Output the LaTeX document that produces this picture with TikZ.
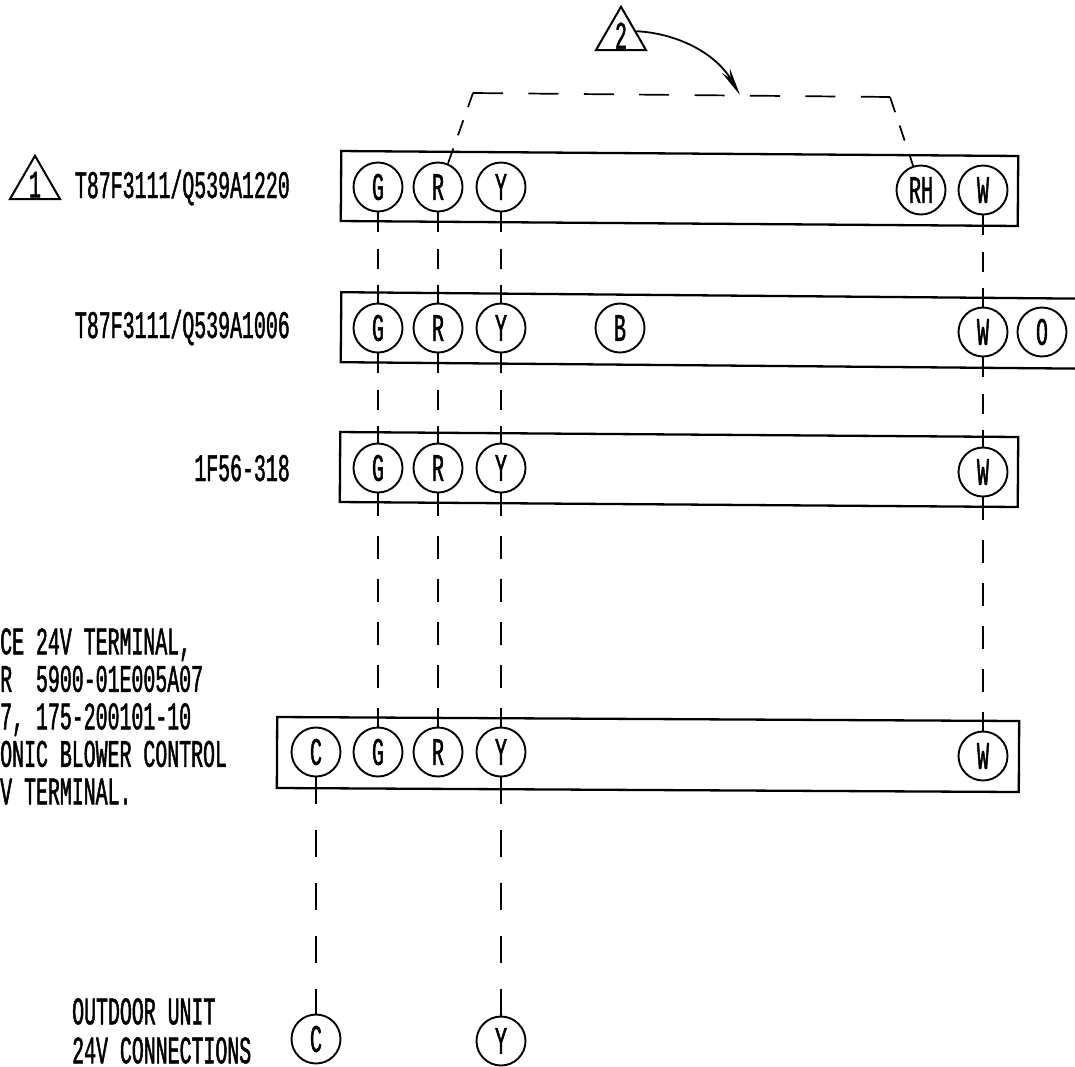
\documentclass[tikz,border=0pt]{standalone}
\usepackage{fontspec}
\usetikzlibrary{arrows.meta,shapes.geometric}
\newfontfamily\plotfont[FakeStretch=0.51,FakeBold=1.2]{Liberation Mono}
\tikzset{every label/.style={inner sep=0pt, font=\fontsize{39}{39}\plotfont}}
\tikzstyle{strip} = [rectangle, draw, line width=2.3pt, inner sep=0pt]
\tikzstyle{term} = [circle, draw, line width=1.9pt, minimum size=49pt, inner sep=0pt, font=\fontsize{39}{39}\plotfont]
\tikzstyle{caption} = [anchor=base east, inner sep=0pt, font=\fontsize{39}{39}\plotfont]
\tikzstyle{flag} = [regular polygon, regular polygon sides=3, draw, line width=2pt, inner sep=0pt, minimum size=57.7pt]
\tikzstyle{wirea} = [line width=1.6pt, dash pattern=on 20pt off 16.5pt]
\tikzstyle{wireb} = [line width=1.6pt, dash pattern=on 23pt off 20pt]
\tikzstyle{wirec} = [line width=1.6pt, dash pattern=on 27pt off 26pt]
\tikzstyle{jumper} = [line width=1.7pt, dash pattern=on 30pt off 25.4pt]
\tikzstyle{jumperend} = [line width=1.7pt, dash pattern=on 16pt off 14pt]

\begin{document}
\begin{tikzpicture}[x=1pt, y=-1pt]
	\useasboundingbox (0,0) rectangle (1075,1066);
	% strips
	\node[strip, minimum width=677pt, minimum height=70pt, rotate=-0.42] (strip1) at (679.5,188.5) {};
	\node[strip, minimum width=759pt, minimum height=70pt, rotate=-0.5] (strip2) at (720.5,330.5) {};
	\node[strip, minimum width=678pt, minimum height=70pt, rotate=-0.42] (strip3) at (679,469.5) {};
	\node[strip, minimum width=742pt, minimum height=71pt, rotate=-0.31] (strip4) at (648,754.5) {};
	% terminals
	\node[term] (g1) at (378,187) {G};
	\node[term, right of=g1, node distance=60pt] (r1) {R};
	\node[term, right of=r1, node distance=63pt] (y1) {Y};
	\node[term] (rh1) at (921,190) {RH};
	\node[term, right of=rh1, node distance=62pt] (w1) {W};
	\node[term] (g2) at (378,328) {G};
	\node[term, right of=g2, node distance=60pt] (r2) {R};
	\node[term, right of=r2, node distance=63pt] (y2) {Y};
	\node[term, right of=y2, node distance=119pt] (b2) {B};
	\node[term] (w2) at (983,332) {W};
	\node[term, right of=w2, node distance=59pt] (o2) {O};
	\node[term] (g3) at (378,468) {G};
	\node[term, right of=g3, node distance=60pt] (r3) {R};
	\node[term, right of=r3, node distance=63pt] (y3) {Y};
	\node[term] (w3) at (983,472) {W};
	\node[term] (c4) at (316,752) {C};
	\node[term, right of=c4, node distance=62pt] (g4) {G};
	\node[term, right of=g4, node distance=60pt] (r4) {R};
	\node[term, right of=r4, node distance=63pt] (y4) {Y};
	\node[term] (w4) at (983,756) {W};
	\node[term] (c5) at (316,1039) {C};
	\node[term] (y5) at (501,1041) {Y};
	% labels
	\node[flag, label=center:{1}] (flag1) at (35,184.6) {};
	\node[flag, label=center:{2}] (flag2) at (621,35.6) {};
	\node[caption] (model1) at (290,198) {T87F3111/Q539A1220};
	\node[caption] (model2) at (290,338) {T87F3111/Q539A1006};
	\node[caption] (model3) at (290,481) {1F56-318};
	\node[anchor=north west, inner sep=0pt, align=left, font=\fontsize{39}{37.5}\plotfont] (note) at (0,628) {CE 24V TERMINAL,\\R~~5900-01E005A07\\7, 175-200101-10\\ONIC BLOWER CONTROL\\V TERMINAL.};
	\node[anchor=north west, inner sep=0pt, align=left, font=\fontsize{39}{39}\plotfont] (outdoor) at (72,998) {OUTDOOR UNIT\\24V CONNECTIONS};
	% wires
	\draw[wirea] (g1.south) -- (g2.north);
	\draw[wirea] (r1.south) -- (r2.north);
	\draw[wirea] (y1.south) -- (y2.north);
	\draw[wirea] (w1.south) -- (w2.north);
	\draw[wirea] (g2.south) -- (g3.north);
	\draw[wirea] (r2.south) -- (r3.north);
	\draw[wirea] (y2.south) -- (y3.north);
	\draw[wirea] (w2.south) -- (w3.north);
	\draw[wireb] (g3.south) -- (g4.north);
	\draw[wireb] (r3.south) -- (r4.north);
	\draw[wireb] (y3.south) -- (y4.north);
	\draw[wireb] (w3.south) -- (w4.north);
	\draw[wirec] (c4.south) -- (c5.north);
	\draw[wirec] (y4.south) -- (y5.north);
	% jumper and its note
	\coordinate (bendl) at (473,93);
	\coordinate (bendr) at (890,97);
	\coordinate (tip) at (740,95);
	\draw[jumperend] (r1.67) -- (bendl);
	\draw[jumper] (bendl) -- (bendr);
	\draw[jumperend] (bendr) -- (rh1.108);
	\draw[line width=1.8pt, -{Stealth[length=28pt, width=9pt]}] (flag2.16) .. controls (675,33) and (715,52) .. (tip);
\end{tikzpicture}
\end{document}
